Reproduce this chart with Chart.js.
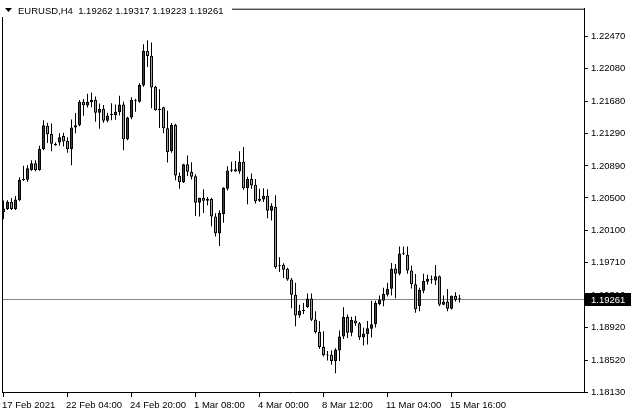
<!DOCTYPE html>
<html><head><meta charset="utf-8">
<script src="https://cdn.jsdelivr.net/npm/chart.js@4/dist/chart.umd.min.js"></script>
<style>html,body{margin:0;padding:0;background:#fff;overflow:hidden}#wrap{width:632px;height:416px;position:relative}</style>
</head><body><div id="wrap"><canvas id="c" width="632" height="416"></canvas></div>
<script>
const symbolTitle = 'EURUSD,H4';
const opens = [
1.20324,1.20363,1.20452,1.20363,1.20471,1.20718,1.20722,1.20842,1.20922,1.20842,
1.21098,1.21382,1.21280,1.21145,1.21176,1.21257,1.21197,1.21098,1.21361,1.21388,
1.21675,1.21627,1.21669,1.21699,1.21540,1.21589,1.21442,1.21523,1.21510,1.21546,
1.21639,1.21215,1.21481,1.21679,1.21673,1.21872,1.22297,1.22235,1.21858,1.21588,
1.21606,1.21350,1.21071,1.21390,1.20770,1.20691,1.20910,1.20820,1.20763,1.20440,
1.20503,1.20464,1.20491,1.20273,1.20064,1.20304,1.20611,1.20830,1.20850,1.20822,
1.20942,1.20617,1.20730,1.20659,1.20464,1.20479,1.20527,1.20344,1.20392,1.19675,
1.19684,1.19634,1.19505,1.19316,1.19063,1.19126,1.19168,1.19272,1.19015,1.18865,
1.18682,1.18578,1.18584,1.18507,1.18638,1.18808,1.19045,1.18853,1.19003,1.18969,
1.18796,1.18838,1.18901,1.18957,1.19204,1.19245,1.19316,1.19391,1.19639,1.19574,
1.19822,1.19806,1.19615,1.19445,1.19176,1.19365,1.19475,1.19493,1.19491,1.19544,
1.19196,1.19236,1.19146,1.19305,1.19262];
const highs = [
1.20467,1.20471,1.20500,1.20524,1.20751,1.20892,1.20898,1.20961,1.20961,1.21137,
1.21448,1.21416,1.21408,1.21176,1.21289,1.21296,1.21241,1.21456,1.21535,1.21695,
1.21707,1.21771,1.21786,1.21738,1.21651,1.21633,1.21540,1.21655,1.21639,1.21747,
1.21675,1.21492,1.21729,1.21711,1.21899,1.22377,1.22426,1.22396,1.21870,1.21828,
1.21613,1.21564,1.21414,1.21404,1.20811,1.20918,1.21017,1.20934,1.20790,1.20503,
1.20605,1.20512,1.20503,1.20312,1.20348,1.20631,1.20886,1.20942,1.20949,1.21069,
1.21121,1.20758,1.20799,1.20730,1.20611,1.20617,1.20607,1.20435,1.20533,1.19774,
1.19702,1.19646,1.19523,1.19463,1.19196,1.19216,1.19332,1.19332,1.19116,1.18997,
1.18871,1.18630,1.18638,1.18664,1.18881,1.19164,1.19075,1.19048,1.19057,1.18985,
1.18913,1.18997,1.19244,1.19244,1.19308,1.19403,1.19463,1.19706,1.19694,1.19905,
1.19905,1.19905,1.19675,1.19571,1.19403,1.19574,1.19562,1.19553,1.19682,1.19553,
1.19308,1.19388,1.19308,1.19347,1.19317];
const lows = [
1.20240,1.20351,1.20351,1.20351,1.20459,1.20707,1.20698,1.20830,1.20826,1.20830,
1.21081,1.21169,1.21069,1.21137,1.21137,1.21129,1.21050,1.20898,1.21289,1.21376,
1.21504,1.21603,1.21607,1.21430,1.21344,1.21416,1.21424,1.21448,1.21454,1.21505,
1.21081,1.21205,1.21460,1.21553,1.21663,1.21858,1.22097,1.21594,1.21564,1.21352,
1.21290,1.20931,1.21051,1.20715,1.20611,1.20683,1.20766,1.20724,1.20280,1.20273,
1.20316,1.20411,1.20153,1.20029,1.19914,1.20196,1.20591,1.20817,1.20820,1.20796,
1.20599,1.20423,1.20611,1.20432,1.20453,1.20449,1.20252,1.20225,1.19634,1.19595,
1.19523,1.19487,1.19152,1.18933,1.19036,1.19081,1.19156,1.18997,1.18844,1.18658,
1.18563,1.18515,1.18462,1.18360,1.18509,1.18778,1.18788,1.18812,1.18937,1.18764,
1.18698,1.18710,1.18794,1.18917,1.19188,1.19176,1.19296,1.19308,1.19275,1.19555,
1.19804,1.19574,1.19395,1.19098,1.19116,1.19335,1.19443,1.19451,1.19436,1.19176,
1.19188,1.19116,1.19137,1.19236,1.19223];
const closes = [
1.20372,1.20452,1.20363,1.20479,1.20722,1.20724,1.20862,1.20922,1.20842,1.21098,
1.21388,1.21277,1.21161,1.21161,1.21241,1.21188,1.21098,1.21361,1.21388,1.21675,
1.21631,1.21675,1.21699,1.21540,1.21589,1.21442,1.21505,1.21508,1.21553,1.21639,
1.21215,1.21481,1.21699,1.21691,1.21878,1.22297,1.22231,1.21848,1.21571,1.21571,
1.21350,1.21059,1.21390,1.20772,1.20691,1.20910,1.20820,1.20758,1.20440,1.20501,
1.20464,1.20491,1.20273,1.20069,1.20320,1.20623,1.20834,1.20846,1.20822,1.20942,
1.20617,1.20730,1.20650,1.20458,1.20491,1.20527,1.20344,1.20404,1.19654,1.19666,
1.19622,1.19505,1.19316,1.19063,1.19126,1.19120,1.19272,1.19012,1.18862,1.18678,
1.18578,1.18575,1.18509,1.18648,1.18808,1.19047,1.18853,1.19009,1.18967,1.18797,
1.18845,1.18909,1.18957,1.19216,1.19256,1.19326,1.19391,1.19636,1.19574,1.19822,
1.19813,1.19615,1.19445,1.19140,1.19379,1.19485,1.19514,1.19505,1.19544,1.19196,
1.19236,1.19146,1.19305,1.19256,1.19261];
const yTickValues = [1.18130,1.18520,1.18920,1.19310,1.19710,1.20100,1.20500,1.20890,1.21290,1.21680,1.22080,1.22470];
const xTickIndex = [0,16,32,48,64,80,96,112];
const xTickLabels = ['17 Feb 2021','22 Feb 04:00','24 Feb 20:00','1 Mar 08:00','4 Mar 00:00','8 Mar 12:00','11 Mar 04:00','15 Mar 16:00'];
const bidPrice = closes[closes.length - 1];

const BULL = '#d20000', BEAR = '#1ee394', BIDLINE = '#778899';
const FONT = {family: '"Liberation Sans", Arial, sans-serif', size: 9.5};

const bodies = opens.map((o, i) => ({x: i, y: [o, closes[i]]}));
const wicks = lows.map((l, i) => ({x: i, y: [l, highs[i]]}));
const bodyColors = opens.map((o, i) => closes[i] >= o ? BULL : BEAR);

const decor = {
  id: 'decor',
  beforeDatasetsDraw(chart) {
    const {ctx, chartArea: a, scales} = chart;
    const y = Math.round(scales.y.getPixelForValue(bidPrice));
    ctx.save();
    ctx.fillStyle = BIDLINE;
    ctx.fillRect(a.left + 1, y, a.right - a.left - 1, 1);
    ctx.restore();
  },
  afterDraw(chart) {
    const {ctx, chartArea: a, scales} = chart;
    ctx.save();
    ctx.fillStyle = '#000';
    ctx.fillRect(a.left, a.top, 1, a.bottom - a.top);
    ctx.fillRect(a.left, a.top, a.right - a.left, 1);
    // bid label box
    const y = Math.round(scales.y.getPixelForValue(bidPrice));
    ctx.fillRect(a.right + 1, y - 6, 46, 13);
    ctx.fillStyle = '#fff';
    ctx.font = '9.5px "Liberation Sans", Arial, sans-serif';
    ctx.textBaseline = 'middle';
    ctx.textAlign = 'left';
    ctx.fillText(bidPrice.toFixed(5), a.right + 7, y + 1);
    // title
    const n = opens.length - 1;
    const title = symbolTitle + '  ' + [opens[n], highs[n], lows[n], closes[n]].map(v => v.toFixed(5)).join(' ');
    ctx.fillStyle = '#fff';
    ctx.fillRect(0, 0, 232, 17);
    ctx.fillStyle = '#000';
    ctx.beginPath();
    ctx.moveTo(5, 8); ctx.lineTo(12, 8); ctx.lineTo(8.5, 12); ctx.closePath(); ctx.fill();
    ctx.fillText(title, 18, 11);
    ctx.restore();
  }
};

new Chart(document.getElementById('c'), {
  type: 'bar',
  data: {datasets: [
    {data: bodies, backgroundColor: bodyColors, borderColor: '#000', borderWidth: 1, borderSkipped: false,
     barThickness: 3, minBarLength: 1, grouped: false, inflateAmount: 0},
    {data: wicks, backgroundColor: '#000', borderWidth: 0, barThickness: 1, grouped: false, inflateAmount: 0}
  ]},
  options: {
    responsive: false, animation: false, devicePixelRatio: 1, events: [],
    layout: {padding: {left: 2, top: 1, right: 0, bottom: 0}},
    plugins: {legend: {display: false}, tooltip: {enabled: false}},
    scales: {
      x: {type: 'linear', min: -0.375, max: 145.125, offset: false,
        afterBuildTicks: s => { s.ticks = xTickIndex.map(v => ({value: v})); },
        afterFit: s => { s.height = 24; },
        grid: {display: true, offset: false, drawOnChartArea: false, drawTicks: true, tickLength: 5, color: '#000'},
        border: {display: true, color: '#000'},
        ticks: {autoSkip: false, maxRotation: 0, minRotation: 0, align: 'start', labelOffset: -1.5, padding: 3,
          color: '#000', font: FONT, callback: v => xTickLabels[xTickIndex.indexOf(v)]}
      },
      y: {type: 'linear', position: 'right', min: 1.18130, max: 1.22810,
        afterBuildTicks: s => { s.ticks = yTickValues.map(v => ({value: v})); },
        afterFit: s => { s.width = 48; },
        grid: {display: true, drawOnChartArea: false, drawTicks: true, tickLength: 4, color: '#000'},
        border: {display: true, color: '#000'},
        ticks: {padding: 3, color: '#000', font: FONT, callback: v => v.toFixed(5)}
      }
    }
  },
  plugins: [decor]
});
</script></body></html>
